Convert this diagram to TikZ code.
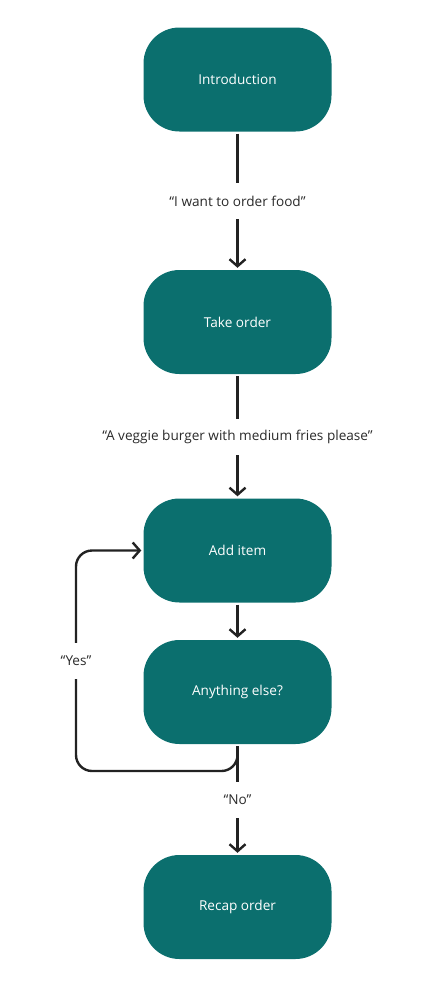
\documentclass[tikz,border=0pt]{standalone}
\usepackage{fontspec}
\setmainfont{Open Sans}
\usetikzlibrary{arrows.meta}
\definecolor{nodeteal}{HTML}{0B6F6E}
\definecolor{linecol}{HTML}{222222}
\definecolor{lblcol}{HTML}{2A2A2A}
\begin{document}
\begin{tikzpicture}[x=1pt,y=-1pt,
  stepbox/.style={rectangle, rounded corners=36pt, fill=nodeteal, minimum width=188pt, minimum height=104pt, text=white, font=\fontsize{13.6}{16}\selectfont, inner sep=0pt},
  flow/.style={draw=linecol, line width=2.4pt, -{Straight Barb[length=7pt,width=16pt]}, shorten <=2pt, shorten >=2pt},
  plain/.style={draw=linecol, line width=2.4pt, shorten <=2pt},
  lbl/.style={fill=white, text=lblcol, font=\fontsize{13.6}{16}\selectfont, minimum height=36pt, inner xsep=3pt, inner ysep=0pt}]
\useasboundingbox (0,0) rectangle (438,999);
\node[stepbox] (n1) at (237.5,79.5) {Introduction};
\node[stepbox] (n2) at (237.5,322) {Take order};
\node[stepbox] (n3) at (237.5,550.5) {Add item};
\node[stepbox] (n4) at (237.5,692) {Anything else?};
\node[stepbox] (n5) at (237.5,907) {Recap order};
\coordinate (c1) at (237.5,771);
\coordinate (c2) at (76,771);
\coordinate (c3) at (76,550.5);
\draw[flow] (n1) -- (n2);
\draw[flow] (n2) -- (n3);
\draw[flow] (n3) -- (n4);
\draw[flow] (n4) -- (n5);
\draw[plain, -{Straight Barb[length=7pt,width=16pt]}, shorten >=2pt, rounded corners=16pt] (n4.south) -- (c1) -- (c2) -- (c3) -- (n3.west);
\node[lbl] (l1) at (237.5,201) {“I want to order food”};
\node[lbl] (l2) at (237.5,437) {“A veggie burger with medium fries please”};
\node[lbl] (l3) at (76,661) {“Yes”};
\node[lbl] (l4) at (237.5,800) {“No”};
\end{tikzpicture}
\end{document}
